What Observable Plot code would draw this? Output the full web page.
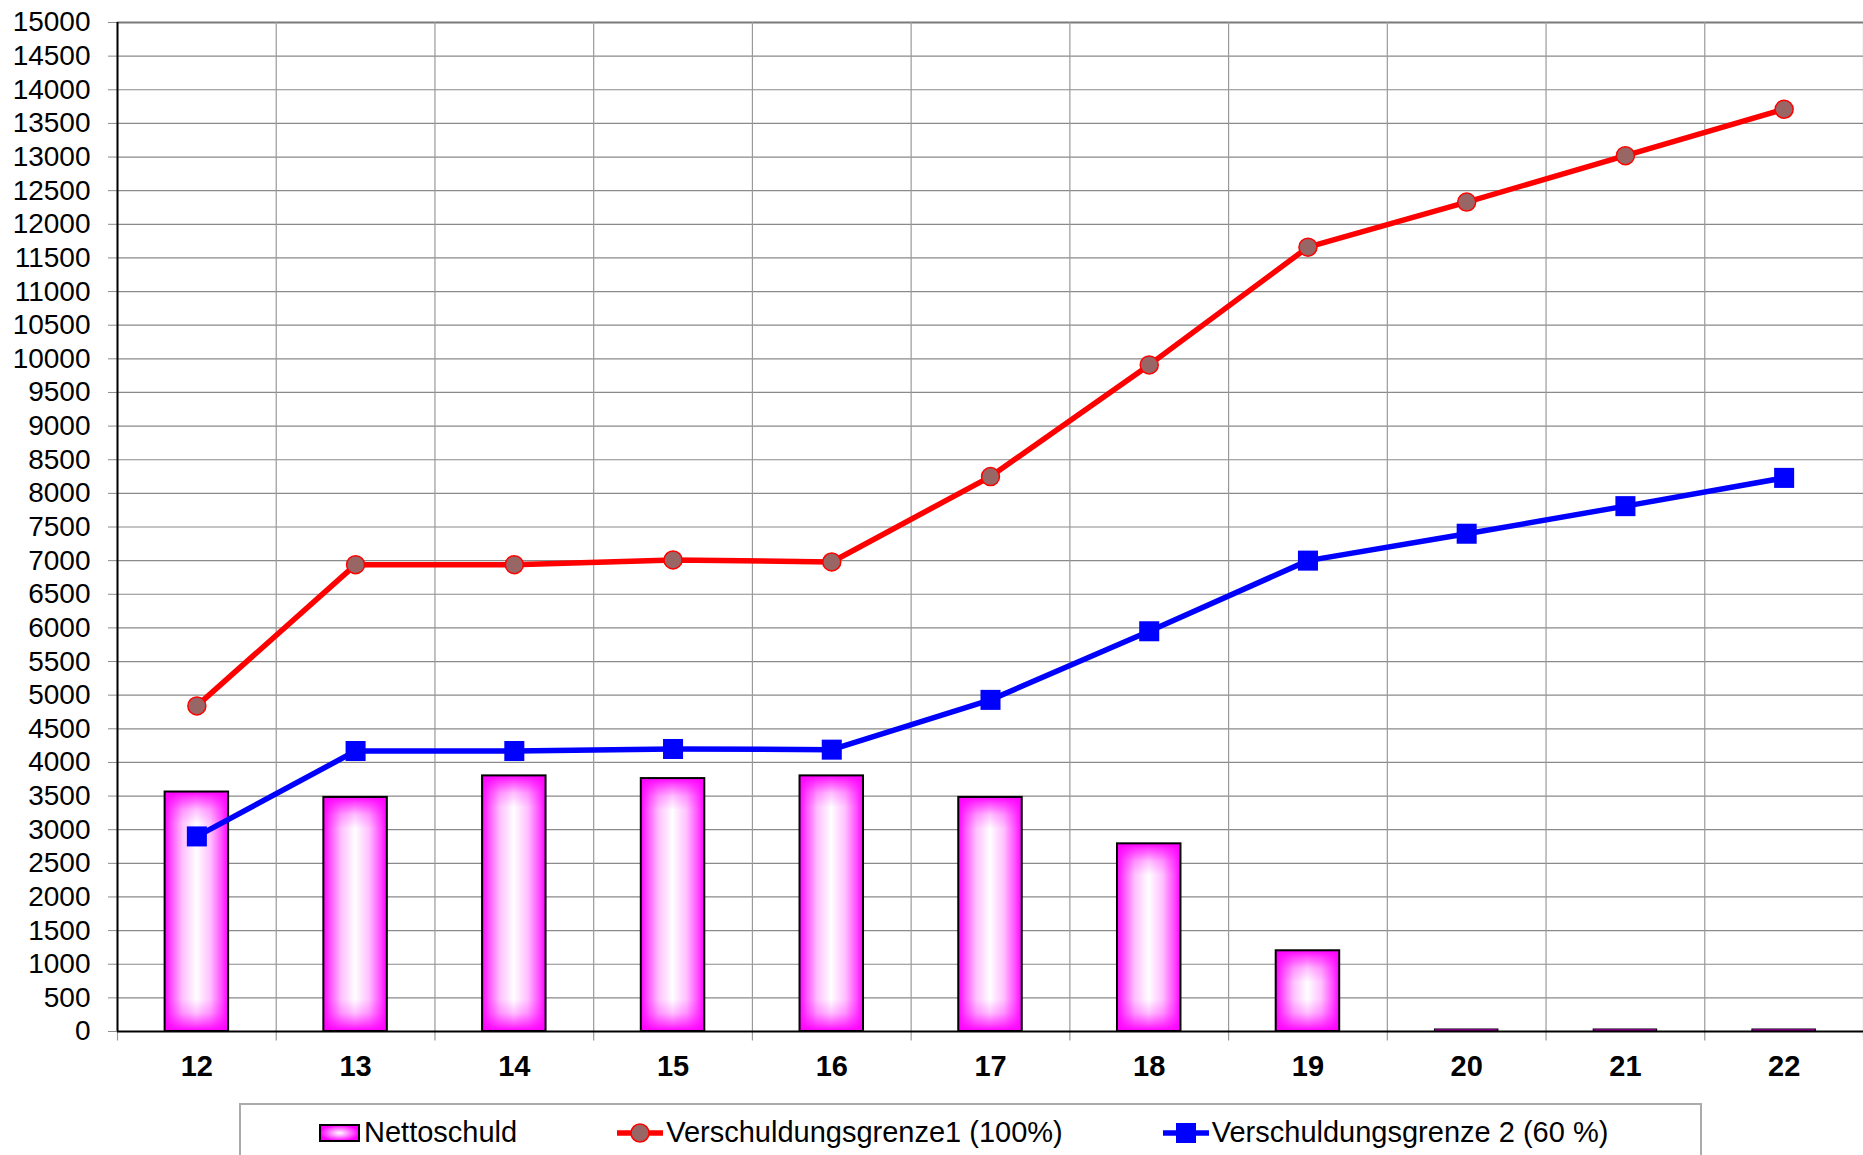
<!DOCTYPE html>
<html>
<head>
<meta charset="utf-8">
<script src="https://cdn.jsdelivr.net/npm/d3@7"></script>
<script src="https://cdn.jsdelivr.net/npm/@observablehq/plot@0.6"></script>
<style>
  body { margin: 0; background: #fff; font-family: "Liberation Sans", Arial, sans-serif; }
  #wrap { position: relative; width: 1863px; height: 1155px; overflow: hidden; }
  #legend { position: absolute; left: 239px; top: 1103px; width: 1463px; height: 70px;
    border: 2px solid #ababab; box-sizing: border-box; display: flex; justify-content: flex-start;
    align-items: flex-start; padding-top: 11px; padding-left: 78px; gap: 100px; font-size: 29px; color: #000; }
  .item { display: flex; align-items: center; white-space: nowrap; }
  .item svg { margin-right: 3px; }
</style>
</head>
<body>
<div id="wrap">
  <div id="chart"></div>
  <div id="legend"></div>
</div>
<script>
const years = [12, 13, 14, 15, 16, 17, 18, 19, 20, 21, 22];
const nettoschuld = [3560, 3480, 3800, 3760, 3800, 3480, 2790, 1200, 30, 30, 30];
const grenze1 = [4840, 6940, 6940, 7010, 6980, 8250, 9910, 11660, 12330, 13020, 13710];
const grenze2 = [2900, 4170, 4170, 4200, 4190, 4930, 5950, 7000, 7400, 7810, 8230];
const yTicks = d3.range(0, 15001, 500);
const seriesNames = ["Nettoschuld", "Verschuldungsgrenze1 (100%)", "Verschuldungsgrenze 2 (60 %)"];

const bars = years.map((y, i) => ({year: y, value: nettoschuld[i]}));
const red = years.map((y, i) => ({year: y, value: grenze1[i]}));
const blue = years.map((y, i) => ({year: y, value: grenze2[i]}));
const boundaries = [...years.map(y => y - 0.5), years[years.length - 1] + 0.5];

const plot = Plot.plot({
  width: 1863,
  height: 1095,
  marginLeft: 117,
  marginRight: 0,
  marginTop: 22,
  marginBottom: 64,
  style: {fontFamily: "Liberation Sans, Arial, sans-serif", background: "white"},
  x: {type: "linear", domain: [years[0] - 0.5, years[years.length - 1] + 0.5]},
  y: {domain: [0, 15000]},
  marks: [
    Plot.ruleY(yTicks, {stroke: "#8a8a8a", strokeWidth: 1.2}),
    Plot.ruleY([15000], {stroke: "#7a7a7a", strokeWidth: 2}),
    Plot.ruleX(boundaries, {y1: -140, y2: 15000, stroke: "#9a9a9a", strokeWidth: 1.2}),
    Plot.rectY(bars, {x1: d => d.year - 0.2, x2: d => d.year + 0.2, y: "value", fill: "url(#gradH)"}),
    Plot.rectY(bars, {x1: d => d.year - 0.2, x2: d => d.year + 0.2, y: "value", fill: "none", stroke: "#000", strokeWidth: 2, className: "barover"}),
    Plot.axisY(yTicks, {tickSize: 9, tickPadding: 18, fontSize: 28, stroke: "#8a8a8a", fill: "#000", label: null, tickFormat: d => String(d)}),
    Plot.axisX(years, {tickSize: 0, tickPadding: 24, fontSize: 29, fontWeight: "bold", fill: "#000", label: null, tickFormat: d => String(d)}),
    Plot.ruleX([years[0] - 0.5], {stroke: "#000", strokeWidth: 2}),
    Plot.ruleY([0], {stroke: "#000", strokeWidth: 2}),
    Plot.line(red, {x: "year", y: "value", stroke: "#ff0000", strokeWidth: 5.5}),
    Plot.dot(red, {x: "year", y: "value", r: 9, fill: "#996666", stroke: "#ff0000", strokeWidth: 1.5}),
    Plot.line(blue, {x: "year", y: "value", stroke: "#0000ff", strokeWidth: 5.5}),
    Plot.dot(blue, {x: "year", y: "value", symbol: "square", r: 11.3, fill: "#0000ff", stroke: "none"})
  ]
});

// gradient defs: horizontal base + per-bar vertical overlay (rectangular path gradient look)
const svg = d3.select(plot);
const defs = svg.insert("defs", ":first-child");
const gH = defs.append("linearGradient").attr("id", "gradH").attr("x1", 0).attr("x2", 1).attr("y1", 0).attr("y2", 0);
[["0%", "#ff00ff"], ["10%", "#ff4dff"], ["28%", "#ffbfff"], ["50%", "#ffffff"], ["72%", "#ffbfff"], ["90%", "#ff4dff"], ["100%", "#ff00ff"]]
  .forEach(([o, c]) => gH.append("stop").attr("offset", o).attr("stop-color", c));

svg.selectAll("g.barover rect").each(function(_, i) {
  const r = d3.select(this);
  const h = +r.attr("height"), w = +r.attr("width");
  if (!(h > 0)) return;
  if (h < 6) { r.attr("fill", "#ff00ff").attr("stroke-width", 1); return; }
  const f = Math.min(0.5, (w / 2) / h);
  const id = "gradV" + i;
  const g = defs.append("linearGradient").attr("id", id).attr("x1", 0).attr("x2", 0).attr("y1", 0).attr("y2", 1);
  [[0, 1], [f * 0.2, 0.7], [f * 0.56, 0.25], [f, 0], [1 - f, 0], [1 - f * 0.56, 0.25], [1 - f * 0.2, 0.7], [1, 1]]
    .forEach(([o, a]) => g.append("stop").attr("offset", o).attr("stop-color", "#ff00ff").attr("stop-opacity", a));
  r.attr("fill", `url(#${id})`);
});

document.getElementById("chart").appendChild(plot);

// legend
const legend = d3.select("#legend");
const sw = [
  s => { s.append("rect").attr("x", 1).attr("y", 6).attr("width", 39).attr("height", 16).attr("fill", "url(#gradLeg)").attr("stroke", "#000").attr("stroke-width", 2); },
  s => { s.append("line").attr("x1", 0).attr("x2", 46).attr("y1", 14).attr("y2", 14).attr("stroke", "#ff0000").attr("stroke-width", 5.5);
         s.append("circle").attr("cx", 23).attr("cy", 14).attr("r", 9).attr("fill", "#996666").attr("stroke", "#ff0000").attr("stroke-width", 1.5); },
  s => { s.append("line").attr("x1", 0).attr("x2", 46).attr("y1", 14).attr("y2", 14).attr("stroke", "#0000ff").attr("stroke-width", 5.5);
         s.append("rect").attr("x", 13).attr("y", 4).attr("width", 20).attr("height", 20).attr("fill", "#0000ff"); }
];
seriesNames.forEach((name, i) => {
  const item = legend.append("div").attr("class", "item");
  const s = item.append("svg").attr("width", i === 0 ? 42 : 46).attr("height", 28);
  if (i === 0) {
    const g = s.append("defs").append("radialGradient").attr("id", "gradLeg");
    g.append("stop").attr("offset", "0%").attr("stop-color", "#ffffff");
    g.append("stop").attr("offset", "100%").attr("stop-color", "#ff00ff");
  }
  sw[i](s);
  item.append("span").text(name);
});
</script>
</body>
</html>
